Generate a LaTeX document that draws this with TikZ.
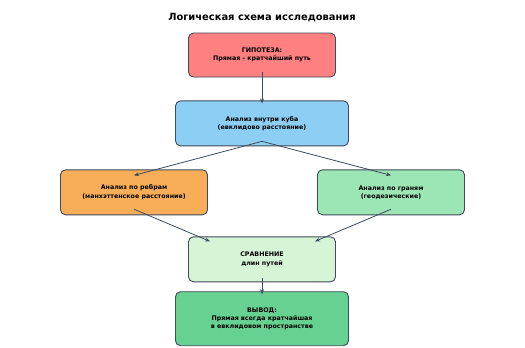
\documentclass[tikz,border=0pt]{standalone}
\usepackage{fontspec}
\setmainfont{DejaVu Sans}
\usetikzlibrary{positioning,arrows.meta}

\definecolor{edgecol}{HTML}{3F4B5C}
\definecolor{hypcol}{HTML}{FF8080}
\definecolor{cubecol}{HTML}{8DCFF4}
\definecolor{ribcol}{HTML}{F8AE58}
\definecolor{facecol}{HTML}{9BE6B4}
\definecolor{cmpcol}{HTML}{D6F5D6}
\definecolor{outcol}{HTML}{66D190}

\begin{document}
\begin{tikzpicture}[
    x=1pt, y=-1pt,
    box/.style={rectangle, draw=edgecol, line width=0.9pt, rounded corners=5pt,
                minimum width=147pt, minimum height=45pt, align=center,
                font=\fontsize{6.3}{8.3}\selectfont\bfseries},
    wide/.style={minimum width=173pt},
    link/.style={draw=edgecol, line width=0.8pt, -{Stealth[length=5pt,width=4pt]}},
    node distance=23pt
]
    \useasboundingbox (0,0) rectangle (525,348);
    \node[font=\fontsize{9.9}{11}\selectfont\bfseries] (title) at (262,18) {Логическая схема исследования};

    \node[box, fill=hypcol, minimum height=44pt] (hyp) at (262,55) {ГИПОТЕЗА:\\Прямая - кратчайший путь};
    \node[box, wide, fill=cubecol, below=of hyp] (cube) {Анализ внутри куба\\(евклидово расстояние)};
    \node[box, fill=ribcol, below=of cube, xshift=-128pt] (ribs) {Анализ по ребрам\\(манхэттенское расстояние)};
    \node[box, fill=facecol, below=of cube, xshift=129pt] (faces) {Анализ по граням\\(геодезические)};
    \node[box, fill=cmpcol, below=of cube, yshift=-67pt] (cmp) {СРАВНЕНИЕ\\длин путей};
    \node[box, wide, fill=outcol, minimum height=54pt, below=9pt of cmp] (out) {ВЫВОД:\\Прямая всегда кратчайшая\\в евклидовом пространстве};

    \draw[link] ([yshift=5pt]hyp.south) -- ([yshift=-3pt]cube.north);
    \draw[link] ([yshift=5pt]cube.south) -- ([yshift=-6pt]ribs.north);
    \draw[link] ([yshift=5pt]cube.south) -- ([yshift=-6pt]faces.north);
    \draw[link] ([yshift=6pt]ribs.south) -- ([shift={(22pt,-5pt)}]cmp.north west);
    \draw[link] ([yshift=6pt]faces.south) -- ([shift={(-21pt,-5pt)}]cmp.north east);
    \draw[link] ([yshift=4pt]cmp.south) -- ([yshift=-3pt]out.north);
\end{tikzpicture}
\end{document}
